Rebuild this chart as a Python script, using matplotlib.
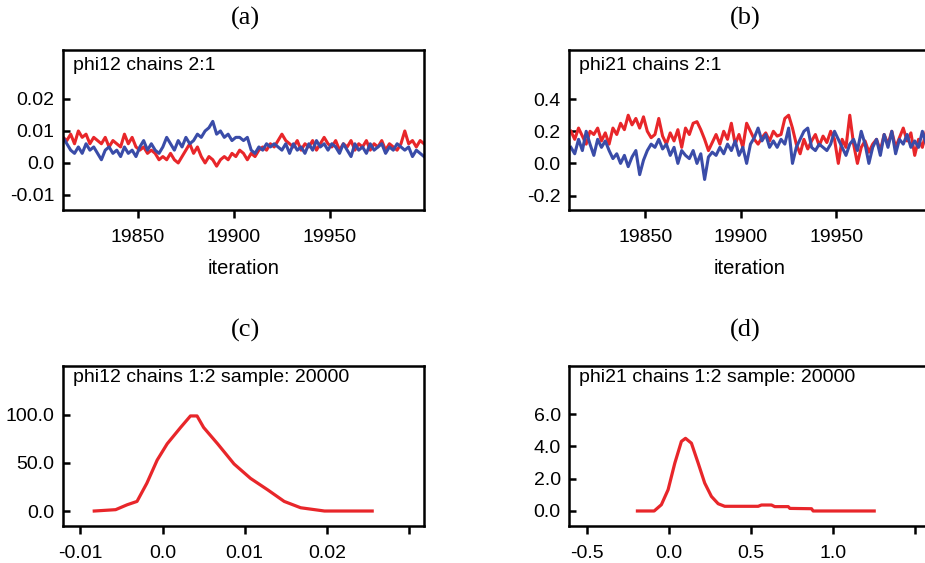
import numpy as np
import matplotlib
matplotlib.use('Agg')
import matplotlib.pyplot as plt

plt.rcParams['font.family'] = ['Liberation Sans', 'DejaVu Sans']

# iterations shown in the trace plots (every 2nd)
iters = np.arange(19811, 20000, 2)

# phi12 traces
phi12_red = [0.008, 0.007, 0.009, 0.006, 0.010, 0.008, 0.009, 0.006, 0.008, 0.007,
             0.006, 0.008, 0.005, 0.007, 0.006, 0.005, 0.009, 0.006, 0.008, 0.005,
             0.004, 0.005, 0.003, 0.004, 0.003, 0.001, 0.002, 0.001, 0.003, 0.001,
             0.000, 0.002, 0.004, 0.006, 0.003, 0.005, 0.002, 0.000, 0.002, 0.001,
             -0.001, 0.001, 0.002, 0.001, 0.003, 0.002, 0.004, 0.003, 0.001, 0.003,
             0.002, 0.004, 0.005, 0.004, 0.006, 0.005, 0.007, 0.009, 0.007, 0.006,
             0.005, 0.007, 0.004, 0.006, 0.005, 0.007, 0.004, 0.006, 0.008, 0.006,
             0.005, 0.007, 0.004, 0.006, 0.005, 0.007, 0.004, 0.006, 0.005, 0.007,
             0.004, 0.006, 0.005, 0.007, 0.004, 0.006, 0.005, 0.004, 0.006, 0.010,
             0.006, 0.007, 0.005, 0.007, 0.006]
phi12_blue = [0.008, 0.006, 0.004, 0.003, 0.005, 0.003, 0.006, 0.004, 0.005, 0.003,
              0.001, 0.004, 0.005, 0.003, 0.004, 0.002, 0.005, 0.003, 0.004, 0.002,
              0.005, 0.007, 0.004, 0.006, 0.004, 0.003, 0.005, 0.008, 0.006, 0.004,
              0.007, 0.005, 0.008, 0.006, 0.007, 0.009, 0.008, 0.010, 0.011, 0.013,
              0.009, 0.010, 0.008, 0.009, 0.007, 0.008, 0.008, 0.007, 0.008, 0.004,
              0.003, 0.005, 0.004, 0.006, 0.005, 0.006, 0.005, 0.004, 0.006, 0.003,
              0.006, 0.004, 0.005, 0.003, 0.006, 0.004, 0.007, 0.005, 0.006, 0.004,
              0.006, 0.005, 0.003, 0.006, 0.004, 0.002, 0.006, 0.004, 0.005, 0.003,
              0.006, 0.004, 0.005, 0.006, 0.003, 0.005, 0.004, 0.006, 0.005, 0.004,
              0.005, 0.002, 0.004, 0.003, 0.002]

# phi21 traces
phi21_red = [0.20, 0.15, 0.22, 0.17, 0.12, 0.20, 0.18, 0.22, 0.14, 0.19,
             0.12, 0.22, 0.18, 0.25, 0.21, 0.30, 0.24, 0.28, 0.22, 0.29,
             0.20, 0.16, 0.18, 0.28, 0.17, 0.12, 0.19, 0.14, 0.21, 0.10,
             0.22, 0.18, 0.25, 0.26, 0.21, 0.15, 0.08, 0.13, 0.18, 0.12,
             0.20, 0.15, 0.25, 0.12, 0.18, 0.10, 0.25, 0.20, 0.15, 0.12,
             0.16, 0.19, 0.14, 0.20, 0.17, 0.18, 0.28, 0.30, 0.22, 0.12,
             0.06, 0.15, 0.09, 0.14, 0.18, 0.11, 0.17, 0.13, 0.20, 0.15,
             0.00, 0.15, 0.10, 0.30, 0.12, 0.00, 0.10, 0.14, 0.07, 0.12,
             0.15, 0.08, 0.18, 0.12, 0.20, 0.10, 0.16, 0.22, 0.14, 0.19,
             0.05, 0.15, 0.10, 0.20, 0.12]
phi21_blue = [0.10, 0.06, 0.15, 0.08, 0.20, 0.12, 0.05, 0.15, 0.10, 0.14,
              0.08, 0.03, 0.06, 0.00, 0.05, -0.02, 0.04, 0.08, -0.07, 0.02,
              0.08, 0.12, 0.10, 0.15, 0.09, 0.12, 0.05, 0.10, 0.00, 0.08,
              0.05, 0.03, 0.08, 0.00, 0.06, -0.10, 0.04, 0.07, 0.05, 0.10,
              0.06, 0.12, 0.08, 0.14, 0.05, 0.10, 0.00, 0.12, 0.16, 0.22,
              0.14, 0.18, 0.10, 0.14, 0.10, 0.15, 0.12, 0.22, 0.00, 0.10,
              0.15, 0.20, 0.22, 0.10, 0.08, 0.12, 0.10, 0.08, 0.12, 0.20,
              0.15, 0.10, 0.05, 0.12, 0.15, 0.08, 0.20, 0.12, 0.00, 0.10,
              0.15, 0.05, 0.18, 0.10, 0.20, 0.06, 0.15, 0.12, 0.18, 0.10,
              0.14, 0.10, 0.20, 0.12, 0.25]

# kernel densities
dens12_x = [-0.0083, -0.0057, -0.0043, -0.0031, -0.0019, -0.00065, 0.00057, 0.0022,
            0.0034, 0.0042, 0.0050, 0.0067, 0.0087, 0.0107, 0.0128, 0.0148, 0.0168,
            0.0197, 0.0255]
dens12_y = [0, 1.4, 6.5, 10, 29, 53, 70, 87, 99, 99, 87, 70, 49, 34, 22, 10, 3.4, 0, 0]

dens21_x = [-0.193, -0.091, -0.047, -0.006, 0.035, 0.075, 0.10, 0.136, 0.177, 0.217,
            0.258, 0.299, 0.339, 0.543, 0.563, 0.624, 0.644, 0.726, 0.736, 0.868,
            0.878, 1.25]
dens21_y = [0, 0, 0.39, 1.32, 2.97, 4.31, 4.5, 4.2, 2.97, 1.73, 0.9, 0.45, 0.29,
            0.29, 0.37, 0.37, 0.27, 0.27, 0.16, 0.14, 0, 0]

RED = '#e8262a'
BLUE = '#3a4ca8'

fig = plt.figure(figsize=(9.25, 5.63), dpi=100)

W = 361 / 925
H = 160 / 563
ax_a = fig.add_axes([63 / 925, (563 - 210) / 563, W, H])
ax_b = fig.add_axes([569 / 925, (563 - 210) / 563, W, H])
ax_c = fig.add_axes([63 / 925, (563 - 526) / 563, W, H])
ax_d = fig.add_axes([569 / 925, (563 - 526) / 563, W, H])


def style(ax):
    for s in ax.spines.values():
        s.set_linewidth(1.8)
    ax.tick_params(axis='y', direction='in', length=5, width=1.8, labelsize=14, pad=6)
    ax.tick_params(axis='x', direction='out', length=6, width=1.8, labelsize=14, pad=8)


# (a)
ax_a.plot(iters, phi12_red, color=RED, lw=2.2)
ax_a.plot(iters, phi12_blue, color=BLUE, lw=2.2)
ax_a.set_xlim(19811, 19999)
ax_a.set_ylim(-0.0147, 0.0353)
ax_a.set_xticks([19850, 19900, 19950])
ax_a.set_yticks([-0.01, 0.0, 0.01, 0.02], ['-0.01', '0.0', '0.01', '0.02'])
ax_a.set_xlabel('iteration', fontsize=14.5, labelpad=9)
ax_a.text(0.028, 0.905, 'phi12 chains 2:1', transform=ax_a.transAxes,
          fontsize=14, va='center')

# (b)
ax_b.plot(iters, phi21_red, color=RED, lw=2.2)
ax_b.plot(iters, phi21_blue, color=BLUE, lw=2.2)
ax_b.set_xlim(19810, 19999)
ax_b.set_ylim(-0.29, 0.706)
ax_b.set_xticks([19850, 19900, 19950])
ax_b.set_yticks([-0.2, 0.0, 0.2, 0.4], ['-0.2', '0.0', '0.2', '0.4'])
ax_b.set_xlabel('iteration', fontsize=14.5, labelpad=9)
ax_b.text(0.028, 0.905, 'phi21 chains 2:1', transform=ax_b.transAxes,
          fontsize=14, va='center')

# (c)
ax_c.plot(dens12_x, dens12_y, color=RED, lw=2.3)
ax_c.set_xlim(-0.0121, 0.0318)
ax_c.set_ylim(-15.6, 151)
ax_c.set_xticks([-0.01, 0.0, 0.01, 0.02, 0.03], ['-0.01', '0.0', '0.01', '0.02', ''])
ax_c.set_yticks([0, 50, 100], ['0.0', '50.0', '100.0'])
ax_c.text(0.028, 0.93, 'phi12 chains 1:2 sample: 20000', transform=ax_c.transAxes,
          fontsize=14, va='center')

# (d)
ax_d.plot(dens21_x, dens21_y, color=RED, lw=2.3)
ax_d.set_xlim(-0.61, 1.59)
ax_d.set_ylim(-0.93, 8.98)
ax_d.set_xticks([-0.5, 0.0, 0.5, 1.0, 1.5], ['-0.5', '0.0', '0.5', '1.0', ''])
ax_d.set_yticks([0, 2, 4, 6], ['0.0', '2.0', '4.0', '6.0'])
ax_d.text(0.028, 0.93, 'phi21 chains 1:2 sample: 20000', transform=ax_d.transAxes,
          fontsize=14, va='center')

for ax in (ax_a, ax_b, ax_c, ax_d):
    style(ax)

for lab, x, y in [('(a)', 245, 18), ('(b)', 745, 18), ('(c)', 245, 330), ('(d)', 745, 330)]:
    fig.text(x / 925, 1 - y / 563, lab, family='Liberation Serif', fontsize=19,
             ha='center', va='center')

fig.savefig('out.png', dpi=100)
